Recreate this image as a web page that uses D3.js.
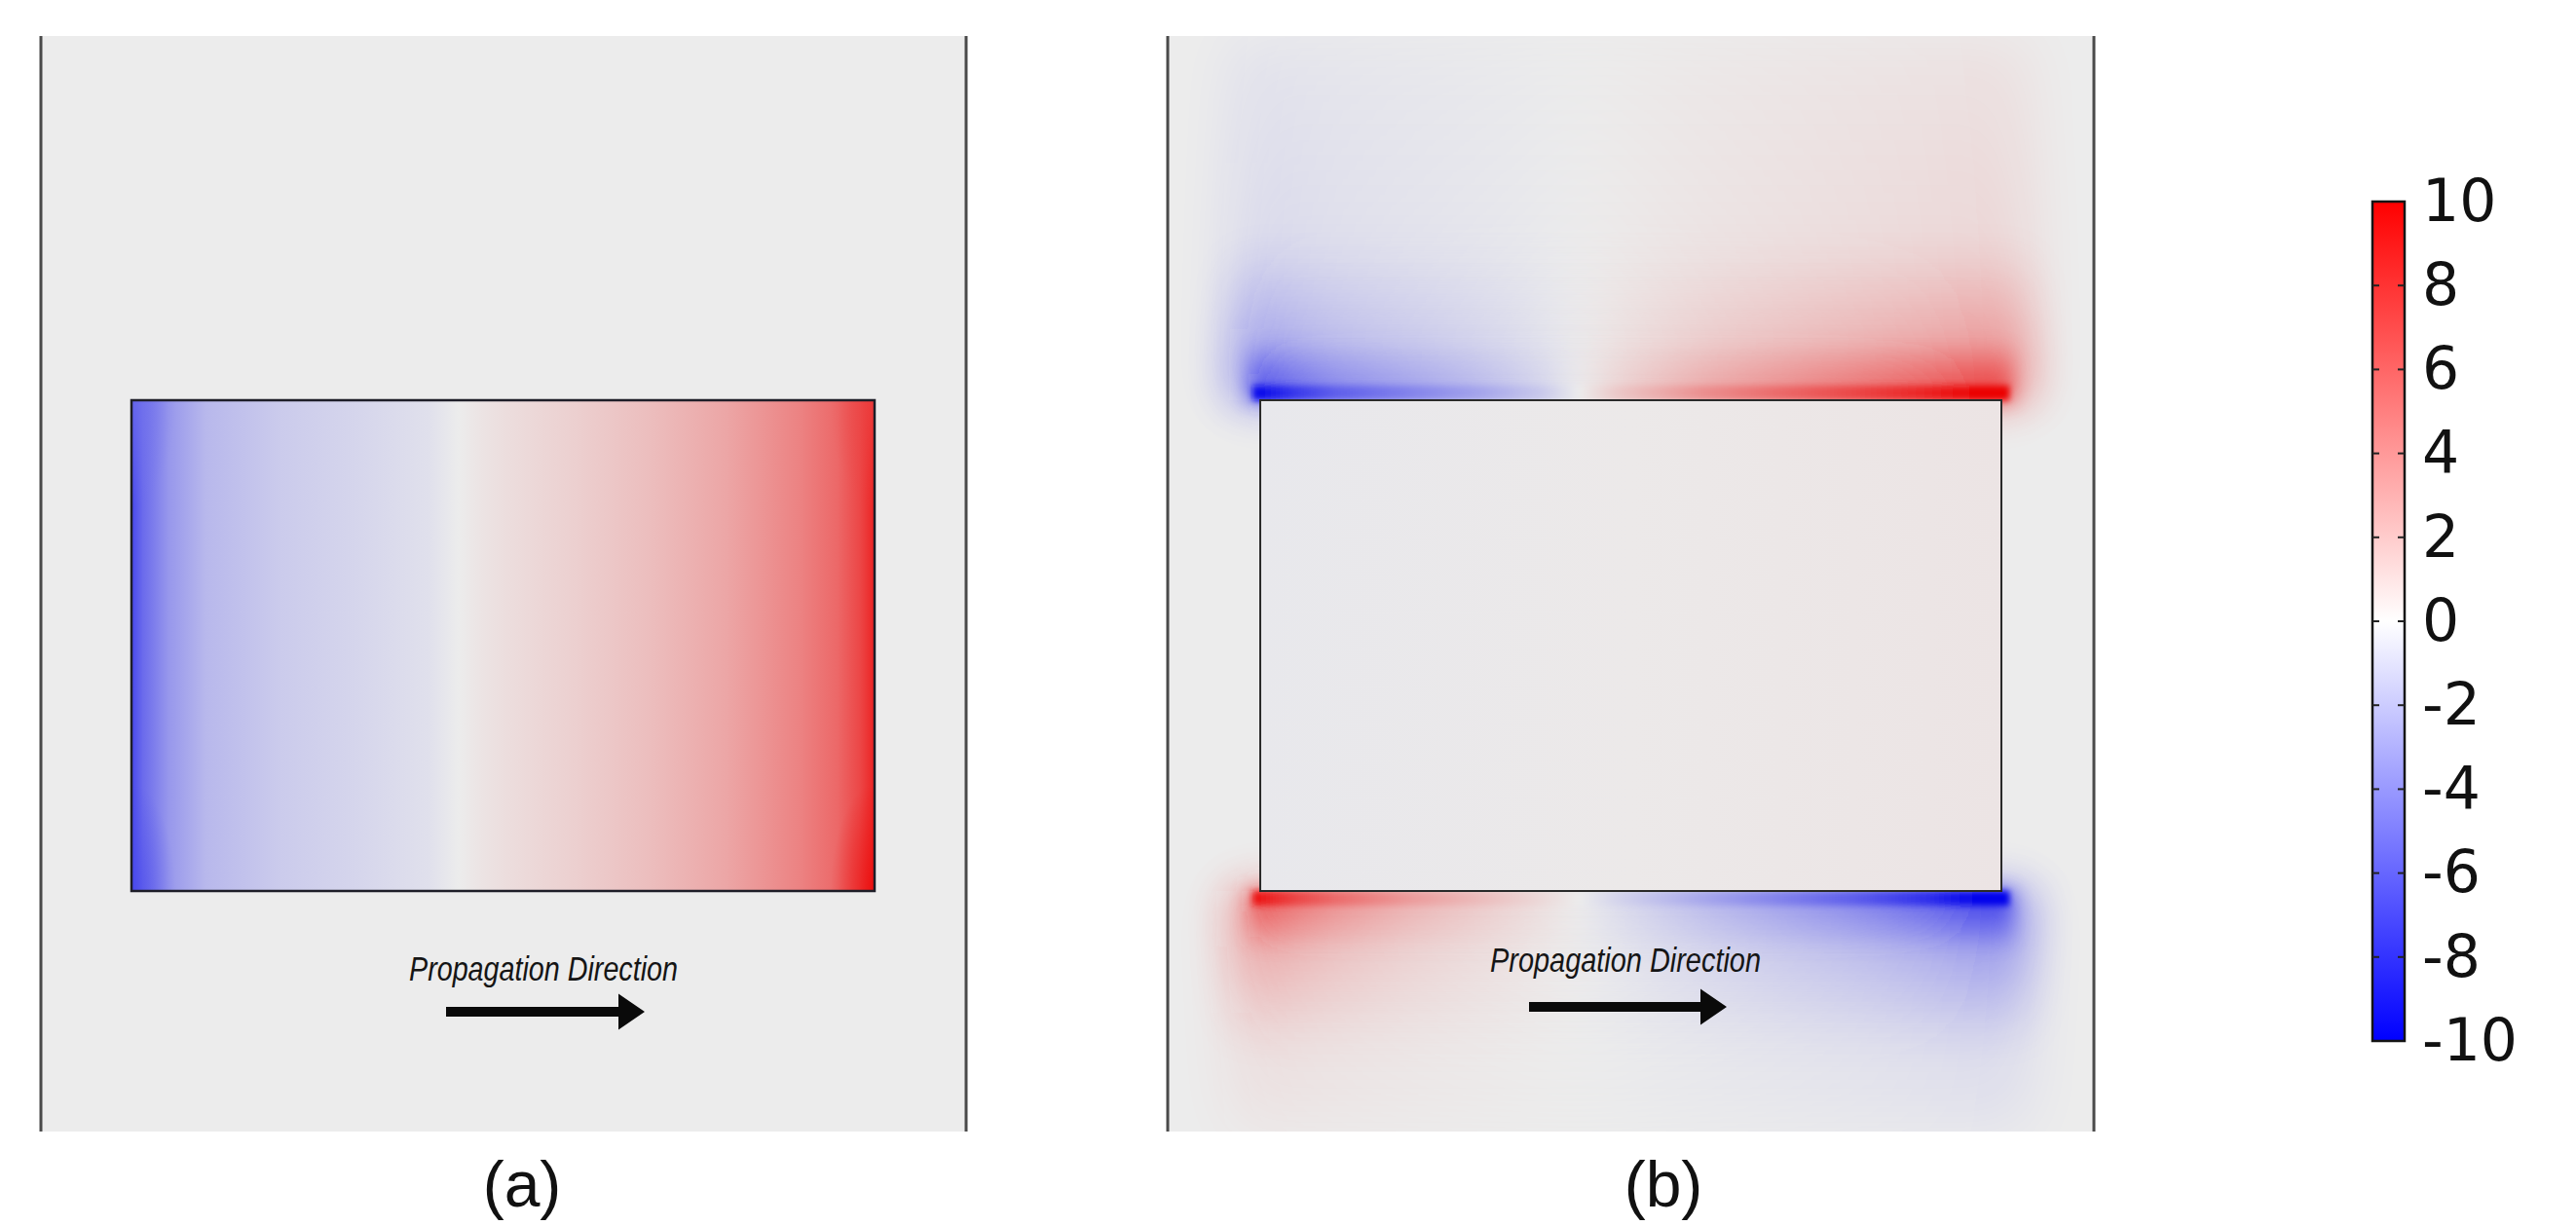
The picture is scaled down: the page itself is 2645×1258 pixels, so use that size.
<!DOCTYPE html>
<html>
<head>
<meta charset="utf-8">
<script src="https://cdn.jsdelivr.net/npm/d3@7"></script>
<style>
  body { margin: 0; background: #fff; }
  svg { display: block; }
</style>
</head>
<body>
<div class="chart"></div>
<script>
// colour bar
var barTicks = [-10, -8, -6, -4, -2, 0, 2, 4, 6, 8, 10];
var barDomain = [-10, 0, 10];
var barColors = ["#0000ff", "#ffffff", "#ff0000"];

// panel (a): field inside the block, left face to right face (fraction of width)
var aPos = [0, 0.015, 0.05, 0.1, 0.2, 0.3, 0.4, 0.44, 0.47, 0.5, 0.6, 0.7, 0.8, 0.9, 0.95, 0.98, 1];
var aVal = [-7, -5.5, -3.6, -2.2, -1.4, -1, -0.5, 0, 0.3, 0.6, 1.2, 2, 3, 4.5, 5.6, 7, 8.5];
// panel (a): corner hot spots (top-left, top-right, bottom-right, bottom-left)
var aCornerVal = [-5, 7, 10, -7];

// panel (b): field just outside the top and bottom faces (fraction of width)
var bPos = [0, 0.05, 0.1, 0.2, 0.3, 0.38, 0.43, 0.48, 0.6, 0.7, 0.8, 0.9, 0.97, 1];
var bTop = [-9.5, -7.5, -6, -4.5, -3, -1.5, 0, 1.5, 4, 5.5, 7, 8.5, 10, 10];
var bBottom = [9, 7, 5.5, 3.5, 2, 0.8, 0, -1, -3, -4.5, -6, -8, -10, -10];
// panel (b): field inside the block
var bInsidePos = [0, 0.5, 1];
var bInsideVal = [-0.15, 0.1, 0.3];

var panelLabels = ["(a)", "(b)"];
var arrowText = "Propagation Direction";

var W = 2645, H = 1258;
var svg = d3.select(".chart").append("svg")
    .attr("width", W)
    .attr("height", H)
    .style("font-family", "'Liberation Sans', Arial, sans-serif");
var defs = svg.append("defs");

var barColor = d3.scaleLinear().domain(barDomain).range(barColors).clamp(true);
// field plots are shaded, so zero shows as light grey rather than white
function fieldColor(v) {
    var c = d3.rgb(barColor(v));
    return d3.rgb(c.r * 0.925, c.g * 0.925, c.b * 0.925).formatHex();
}

function hGradient(id, pos, vals, x0, x1) {
    var g = defs.append("linearGradient").attr("id", id)
        .attr("gradientUnits", "userSpaceOnUse")
        .attr("x1", x0).attr("x2", x1).attr("y1", 0).attr("y2", 0);
    g.selectAll("stop").data(pos).join("stop")
        .attr("offset", d => d)
        .attr("stop-color", (d, i) => fieldColor(vals[i]));
    return "url(#" + id + ")";
}

function blurFilter(id, sd, p) {
    defs.append("filter").attr("id", id)
        .attr("filterUnits", "userSpaceOnUse")
        .attr("x", p.x0 - 200).attr("y", 0).attr("width", p.x1 - p.x0 + 400).attr("height", H)
        .append("feGaussianBlur").attr("stdDeviation", sd);
    return "url(#" + id + ")";
}

var panelTop = 37, panelBottom = 1162;
var blockTop = 411, blockBottom = 915;
var panels = [
    {x0: 42, x1: 992, bx0: 135, bx1: 898, labelX: 536, textX: 420, textY: 1007, textLen: 276, arrowX0: 458, arrowX1: 662, arrowY: 1039},
    {x0: 1199, x1: 2150, bx0: 1294, bx1: 2055, labelX: 1708, textX: 1530, textY: 998, textLen: 278, arrowX0: 1570, arrowX1: 1773, arrowY: 1034}
];
var fy = d3.scaleLinear().domain([0, 1]).range([blockTop, blockBottom]);

panels.forEach(function(p, i) {
    var g = svg.append("g");
    defs.append("clipPath").attr("id", "clip" + i)
        .append("rect")
        .attr("x", p.x0).attr("y", panelTop)
        .attr("width", p.x1 - p.x0).attr("height", panelBottom - panelTop);
    var body = g.append("g").attr("clip-path", "url(#clip" + i + ")");
    body.append("rect")
        .attr("x", p.x0).attr("y", panelTop)
        .attr("width", p.x1 - p.x0).attr("height", panelBottom - panelTop)
        .attr("fill", fieldColor(0));

    var fx = d3.scaleLinear().domain([0, 1]).range([p.bx0, p.bx1]);
    if (i === 0) drawA(body, fx, p); else drawB(body, fx, p);

    // side lines of the simulation window
    g.selectAll("line.side").data([p.x0, p.x1]).join("line")
        .attr("class", "side")
        .attr("x1", d => d).attr("x2", d => d)
        .attr("y1", panelTop).attr("y2", panelBottom)
        .attr("stroke", "#4a4a4a").attr("stroke-width", 3);

    // propagation note
    g.append("text")
        .attr("x", p.textX).attr("y", p.textY)
        .attr("font-family", "'Liberation Sans Narrow', 'Liberation Sans', Arial, sans-serif")
        .attr("font-style", "italic")
        .attr("font-size", 35)
        .attr("fill", "#151515")
        .attr("textLength", p.textLen)
        .attr("lengthAdjust", "spacingAndGlyphs")
        .text(arrowText);
    var y = p.arrowY, hx = p.arrowX1 - 27;
    g.append("path")
        .attr("d", "M" + p.arrowX0 + "," + (y - 5) + "L" + hx + "," + (y - 5) + "L" + hx + "," + (y - 18.5) +
            "L" + p.arrowX1 + "," + y + "L" + hx + "," + (y + 18.5) + "L" + hx + "," + (y + 5) +
            "L" + p.arrowX0 + "," + (y + 5) + "Z")
        .attr("fill", "#0a0a0a");

    svg.append("text")
        .attr("x", p.labelX).attr("y", 1239)
        .attr("text-anchor", "middle")
        .attr("font-size", 66)
        .attr("fill", "#111")
        .text(panelLabels[i]);
});

function drawA(body, fx, p) {
    defs.append("clipPath").attr("id", "blockA").append("rect")
        .attr("x", fx(0)).attr("y", fy(0)).attr("width", fx(1) - fx(0)).attr("height", fy(1) - fy(0));
    var blk = body.append("g").attr("clip-path", "url(#blockA)");
    blk.append("rect")
        .attr("x", fx(0)).attr("y", fy(0)).attr("width", fx(1) - fx(0)).attr("height", fy(1) - fy(0))
        .attr("fill", hGradient("gradA", aPos, aVal, fx(0), fx(1)));
    // soft corner spots, stretched along the faces
    var corners = [[0, 0], [1, 0], [1, 1], [0, 1]];
    corners.forEach(function(c, k) {
        var rg = defs.append("radialGradient").attr("id", "corner" + k);
        rg.append("stop").attr("offset", 0).attr("stop-color", fieldColor(aCornerVal[k])).attr("stop-opacity", 0.6);
        rg.append("stop").attr("offset", 1).attr("stop-color", fieldColor(aCornerVal[k])).attr("stop-opacity", 0);
        blk.append("ellipse")
            .attr("cx", fx(c[0])).attr("cy", fy(c[1])).attr("rx", 45).attr("ry", 110)
            .attr("fill", "url(#corner" + k + ")");
    });
    body.append("rect")
        .attr("x", fx(0)).attr("y", fy(0)).attr("width", fx(1) - fx(0)).attr("height", fy(1) - fy(0))
        .attr("fill", "none").attr("stroke", "#1e1e28").attr("stroke-width", 2.5);
}

function drawB(body, fx, p) {
    var layers = [
        {depth: 0, opacity: 0.13, blur: 30, fadeTo: 0.3, pad: 30},
        {depth: 160, opacity: 0.38, blur: 22, fadeTo: 0, pad: 30},
        {depth: 60, opacity: 0.7, blur: 10, fadeTo: 0, pad: 12},
        {depth: 15, opacity: 1, blur: 3, fadeTo: 1, pad: 8}
    ];
    var sides = [
        {name: "top", vals: bTop, edge: fy(0), dir: -1, limit: panelTop},
        {name: "bot", vals: bBottom, edge: fy(1), dir: 1, limit: panelBottom}
    ];
    sides.forEach(function(s) {
        var fill = hGradient("gradB" + s.name, bPos, s.vals, fx(0), fx(1));
        layers.forEach(function(l, k) {
            var d = l.depth || Math.abs(s.limit - s.edge);
            var far = s.edge + s.dir * d;
            var mg = defs.append("linearGradient").attr("id", "fade" + s.name + k)
                .attr("gradientUnits", "userSpaceOnUse")
                .attr("x1", 0).attr("x2", 0).attr("y1", s.edge).attr("y2", far);
            mg.append("stop").attr("offset", 0).attr("stop-color", "#fff").attr("stop-opacity", 1);
            mg.append("stop").attr("offset", 1).attr("stop-color", "#fff").attr("stop-opacity", l.fadeTo);
            defs.append("mask").attr("id", "mask" + s.name + k)
                .attr("maskUnits", "userSpaceOnUse")
                .attr("x", p.x0 - 100).attr("y", 0).attr("width", p.x1 - p.x0 + 200).attr("height", H)
                .append("rect")
                .attr("x", p.x0 - 100).attr("y", 0).attr("width", p.x1 - p.x0 + 200).attr("height", H)
                .attr("fill", "url(#fade" + s.name + k + ")");
            body.append("g")
                .attr("filter", blurFilter("blur" + s.name + k, l.blur, p))
                .attr("opacity", l.opacity)
                .append("rect")
                .attr("mask", "url(#mask" + s.name + k + ")")
                .attr("x", fx(0) - l.pad).attr("width", fx(1) - fx(0) + 2 * l.pad)
                .attr("y", Math.min(s.edge, far)).attr("height", d)
                .attr("fill", fill);
        });
    });
    body.append("rect")
        .attr("x", fx(0)).attr("y", fy(0)).attr("width", fx(1) - fx(0)).attr("height", fy(1) - fy(0))
        .attr("fill", hGradient("gradBin", bInsidePos, bInsideVal, fx(0), fx(1)))
        .attr("stroke", "#2a2a2a").attr("stroke-width", 2);
}

// colour bar
var barX = 2436, barW = 33;
var cy = d3.scaleLinear().domain([-10, 10]).range([1069, 207]);
var bg = defs.append("linearGradient").attr("id", "barGrad")
    .attr("gradientUnits", "userSpaceOnUse")
    .attr("x1", 0).attr("x2", 0).attr("y1", cy(-10)).attr("y2", cy(10));
bg.selectAll("stop").data(barTicks).join("stop")
    .attr("offset", d => (d + 10) / 20)
    .attr("stop-color", d => barColor(d));
var bar = svg.append("g");
bar.append("rect")
    .attr("x", barX).attr("y", cy(10)).attr("width", barW).attr("height", cy(-10) - cy(10))
    .attr("fill", "url(#barGrad)").attr("stroke", "#141414").attr("stroke-width", 2.5);
var inner = barTicks.slice(1, -1);
bar.selectAll("line.tl").data(inner).join("line").attr("class", "tl")
    .attr("x1", barX).attr("x2", barX + 7).attr("y1", d => cy(d)).attr("y2", d => cy(d))
    .attr("stroke", "#222").attr("stroke-width", 2);
bar.selectAll("line.tr").data(inner).join("line").attr("class", "tr")
    .attr("x1", barX + barW - 7).attr("x2", barX + barW).attr("y1", d => cy(d)).attr("y2", d => cy(d))
    .attr("stroke", "#222").attr("stroke-width", 2);
var axis = bar.append("g")
    .attr("transform", "translate(" + (barX + barW) + ",0)")
    .call(d3.axisRight(cy).tickValues(barTicks).tickFormat(d => String(d)).tickSize(0).tickPadding(18));
axis.select(".domain").remove();
axis.selectAll("text")
    .attr("font-family", "'DejaVu Sans', sans-serif")
    .attr("font-size", 60)
    .attr("fill", "#111");
</script>
</body>
</html>
